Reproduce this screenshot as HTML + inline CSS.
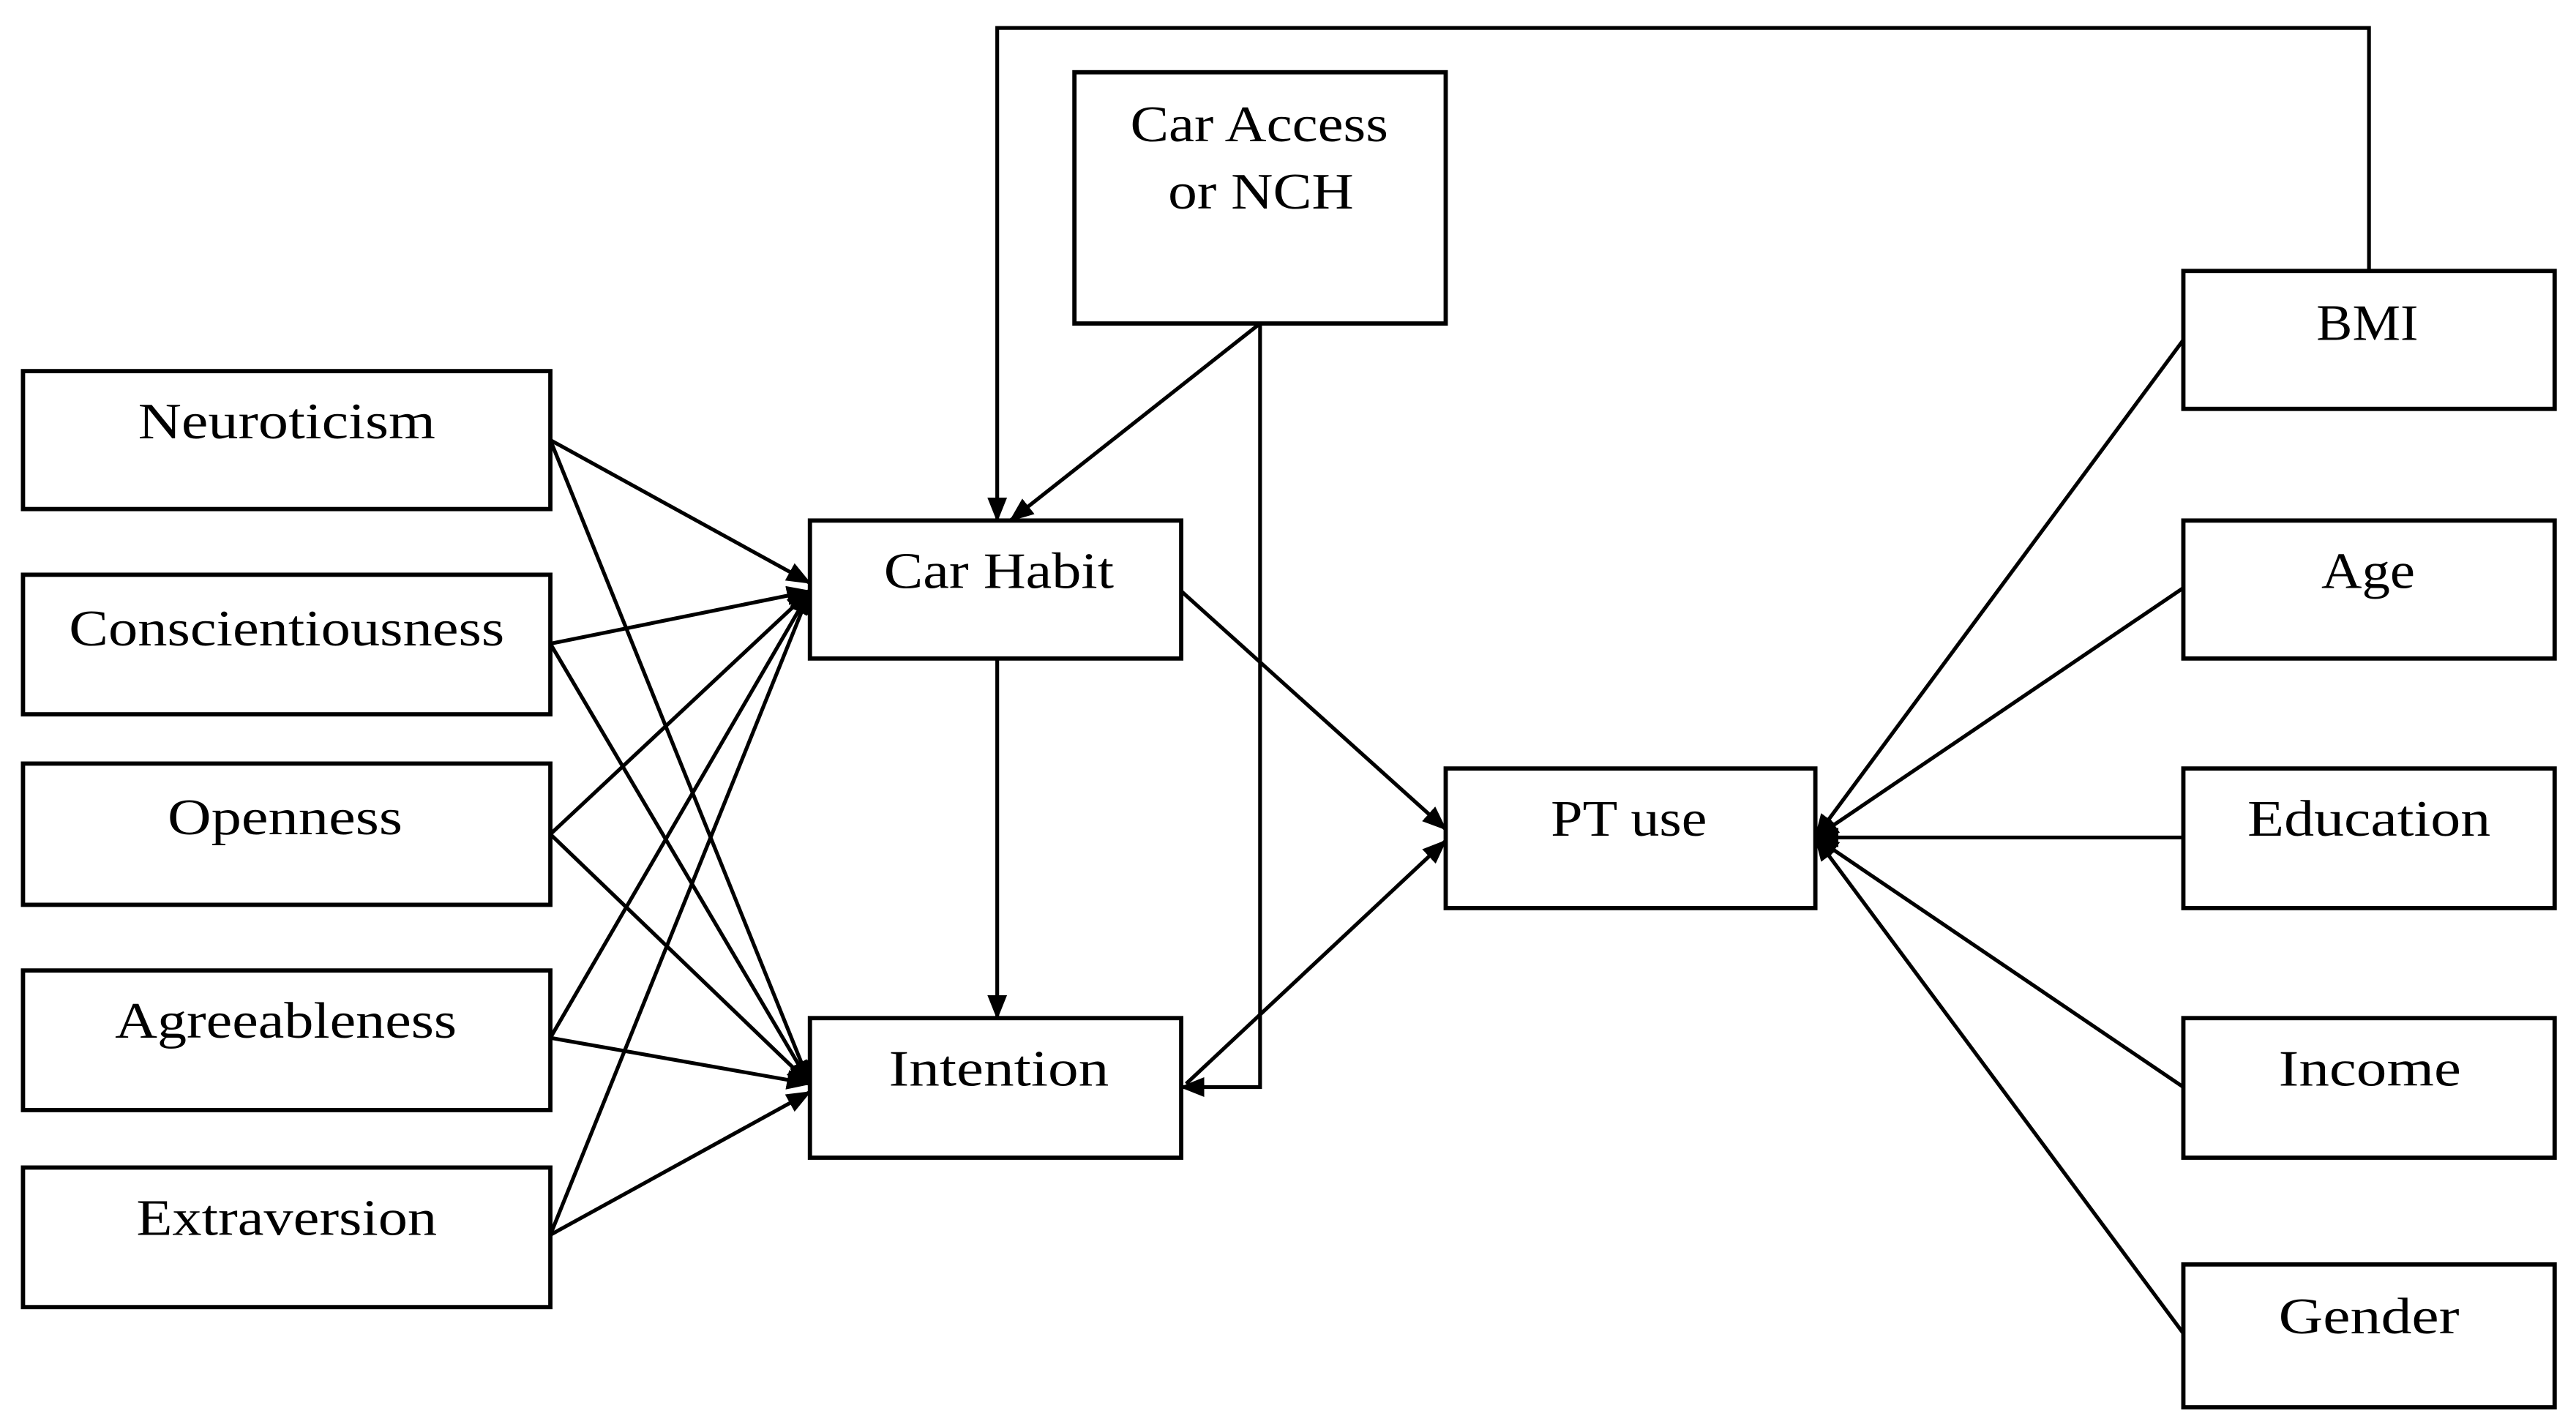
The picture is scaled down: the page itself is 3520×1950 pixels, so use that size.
<!DOCTYPE html>
<html><head><style>html,body{margin:0;padding:0;background:#fff}svg{display:block}</style></head><body>
<svg width="3520" height="1950" viewBox="0 0 1568 869" preserveAspectRatio="none" xmlns="http://www.w3.org/2000/svg">
<defs><marker id="a" markerWidth="15" markerHeight="12" refX="14" refY="6" orient="auto" markerUnits="userSpaceOnUse"><path d="M0,0 L15,6 L0,12 Z" fill="#000"/></marker></defs>
<g fill="#fff" stroke="#000" stroke-width="2.6">
<rect x="14" y="226" width="321" height="84"/>
<rect x="14" y="350" width="321" height="85"/>
<rect x="14" y="465" width="321" height="86"/>
<rect x="14" y="591" width="321" height="85"/>
<rect x="14" y="711" width="321" height="85"/>
<rect x="654" y="44" width="226" height="153"/>
<rect x="493" y="317" width="226" height="84"/>
<rect x="493" y="620" width="226" height="85"/>
<rect x="880" y="468" width="225" height="85"/>
<rect x="1329" y="165" width="226" height="84"/>
<rect x="1329" y="317" width="226" height="84"/>
<rect x="1329" y="468" width="226" height="85"/>
<rect x="1329" y="620" width="226" height="85"/>
<rect x="1329" y="770" width="226" height="87"/>
</g>
<g stroke="#000" stroke-width="2.3" fill="none" marker-end="url(#a)">
<line x1="335" y1="268" x2="493" y2="355"/><line x1="335" y1="268" x2="493" y2="660"/>
<line x1="335" y1="392" x2="493" y2="360"/><line x1="335" y1="392" x2="493" y2="660"/>
<line x1="335" y1="508" x2="493" y2="360"/><line x1="335" y1="508" x2="493" y2="660"/>
<line x1="335" y1="632" x2="493" y2="360"/><line x1="335" y1="632" x2="493" y2="660"/>
<line x1="335" y1="752" x2="493" y2="360"/><line x1="335" y1="752" x2="493" y2="665"/>
<line x1="767" y1="197" x2="615" y2="317"/>
<polyline points="767,197 767,662 719,662"/>
<polyline points="1442,165 1442,17 607,17 607,317"/>
<line x1="607" y1="401" x2="607" y2="620"/>
<line x1="719" y1="360" x2="880" y2="505"/>
<line x1="722" y1="660" x2="880" y2="512"/>
<line x1="1329" y1="207" x2="1105" y2="510"/>
<line x1="1329" y1="358" x2="1105" y2="510"/>
<line x1="1329" y1="510" x2="1105" y2="510"/>
<line x1="1329" y1="662" x2="1105" y2="510"/>
<line x1="1329" y1="812" x2="1105" y2="510"/>
</g>
<g font-family="Liberation Serif, serif" font-size="31" fill="#000" lengthAdjust="spacingAndGlyphs">
<text x="84" y="267" textLength="181" lengthAdjust="spacingAndGlyphs">Neuroticism</text>
<text x="42" y="393" textLength="265" lengthAdjust="spacingAndGlyphs">Conscientiousness</text>
<text x="102" y="508" textLength="143" lengthAdjust="spacingAndGlyphs">Openness</text>
<text x="70" y="632" textLength="208" lengthAdjust="spacingAndGlyphs">Agreeableness</text>
<text x="83" y="752" textLength="183" lengthAdjust="spacingAndGlyphs">Extraversion</text>
<text x="688" y="86" textLength="157" lengthAdjust="spacingAndGlyphs">Car Access</text>
<text x="711" y="127" textLength="113" lengthAdjust="spacingAndGlyphs">or NCH</text>
<text x="538" y="358" textLength="140" lengthAdjust="spacingAndGlyphs">Car Habit</text>
<text x="541" y="661" textLength="134" lengthAdjust="spacingAndGlyphs">Intention</text>
<text x="944" y="509" textLength="95" lengthAdjust="spacingAndGlyphs">PT use</text>
<text x="1410" y="207" textLength="62" lengthAdjust="spacingAndGlyphs">BMI</text>
<text x="1413" y="358" textLength="57" lengthAdjust="spacingAndGlyphs">Age</text>
<text x="1368" y="509" textLength="148" lengthAdjust="spacingAndGlyphs">Education</text>
<text x="1387" y="661" textLength="111" lengthAdjust="spacingAndGlyphs">Income</text>
<text x="1387" y="812" textLength="110" lengthAdjust="spacingAndGlyphs">Gender</text>
</g>
</svg>
</body></html>
